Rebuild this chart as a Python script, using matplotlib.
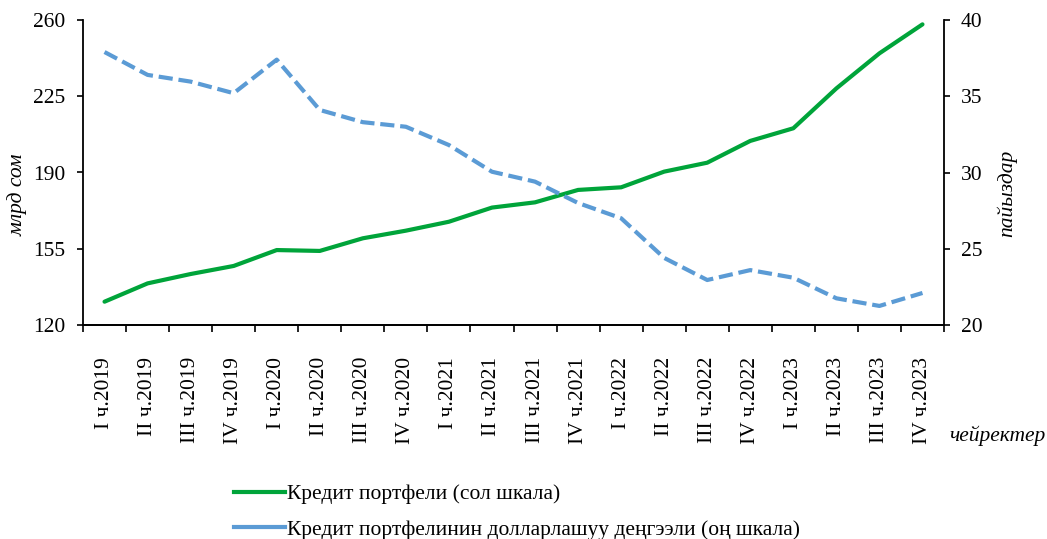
import matplotlib
matplotlib.use("Agg")
import matplotlib.pyplot as plt
from matplotlib.lines import Line2D

plt.rcParams['font.family'] = ['Liberation Serif', 'DejaVu Serif']

categories = ["I ч.2019", "II ч.2019", "III ч.2019", "IV ч.2019",
              "I ч.2020", "II ч.2020", "III ч.2020", "IV ч.2020",
              "I ч.2021", "II ч.2021", "III ч.2021", "IV ч.2021",
              "I ч.2022", "II ч.2022", "III ч.2022", "IV ч.2022",
              "I ч.2023", "II ч.2023", "III ч.2023", "IV ч.2023"]
credit_portfolio = [130.7, 139.1, 143.4, 147.1, 154.4, 154.0, 159.8, 163.3,
                    167.4, 173.9, 176.3, 182.0, 183.2, 190.4, 194.5, 204.5,
                    210.3, 228.6, 244.7, 258.0]
dollarization = [37.9, 36.4, 35.96, 35.2, 37.4, 34.1, 33.3, 33.0, 31.8, 30.05,
                 29.4, 28.0, 27.0, 24.4, 22.95, 23.6, 23.1, 21.75, 21.25, 22.1]
left_ticks = [120, 155, 190, 225, 260]
right_ticks = [20, 25, 30, 35, 40]
legend_labels = ["Кредит портфели (сол шкала)",
                 "Кредит портфелинин долларлашуу деңгээли (оң шкала)"]

green = "#00A43A"
blue = "#5B9BD5"
fs = 15.5

fig = plt.figure(figsize=(10.47, 5.39), dpi=100)
ax = fig.add_axes([83/1047, 1-325/539, (944-83)/1047, (325-20)/539])
ax2 = ax.twinx()

x = list(range(len(categories)))
ax.plot(x, credit_portfolio, color=green, lw=3.0, solid_capstyle='round', zorder=3)
ax2.plot(x, dollarization, color=blue, lw=3.0, dashes=(3.4, 1.4), zorder=3)

ax.set_xlim(-0.5, len(categories)-0.5)
ax.set_ylim(120, 260)
ax2.set_ylim(20, 40)
ax.set_yticks(left_ticks)
ax2.set_yticks(right_ticks)

ax.set_xticks(x)
ax.set_xticklabels(categories, rotation=90, fontsize=fs, va='top')
ax.tick_params(axis='x', which='major', length=0, pad=23)
ax.set_xticks([i - 0.5 for i in range(len(categories)+1)], minor=True)
ax.tick_params(axis='x', which='minor', length=5, width=1.2, direction='out')

ax.tick_params(axis='y', labelsize=fs, length=4, width=1.2, direction='out', pad=9)
ax2.tick_params(axis='y', labelsize=fs, length=4, width=1.2, direction='out', pad=8)

for a in (ax, ax2):
    a.spines['top'].set_visible(False)
    for s in ('left', 'right', 'bottom'):
        a.spines[s].set_linewidth(1.3)
ax.spines['right'].set_visible(False)
ax2.spines['left'].set_visible(False)

fig.text(18/1047, 1-195/539, "млрд сом", rotation=90, style='italic',
         fontsize=fs, ha='center', va='center')
fig.text(1007/1047, 1-193/539, "пайыздар", rotation=90, style='italic',
         fontsize=fs, ha='center', va='center')
fig.text(1046/1047, 1-436/539, "чейректер", style='italic',
         fontsize=fs, ha='right', va='center')

handles = [Line2D([], [], color=green, lw=3.0),
           Line2D([], [], color=blue, lw=3.0)]
fig.legend(handles, legend_labels, loc='upper left',
           bbox_to_anchor=(234/1047, 1-484/539), frameon=False, fontsize=fs,
           handlelength=2.35, handletextpad=0.12, labelspacing=0.72,
           borderaxespad=0, borderpad=0)

fig.savefig("out.png", dpi=100)
